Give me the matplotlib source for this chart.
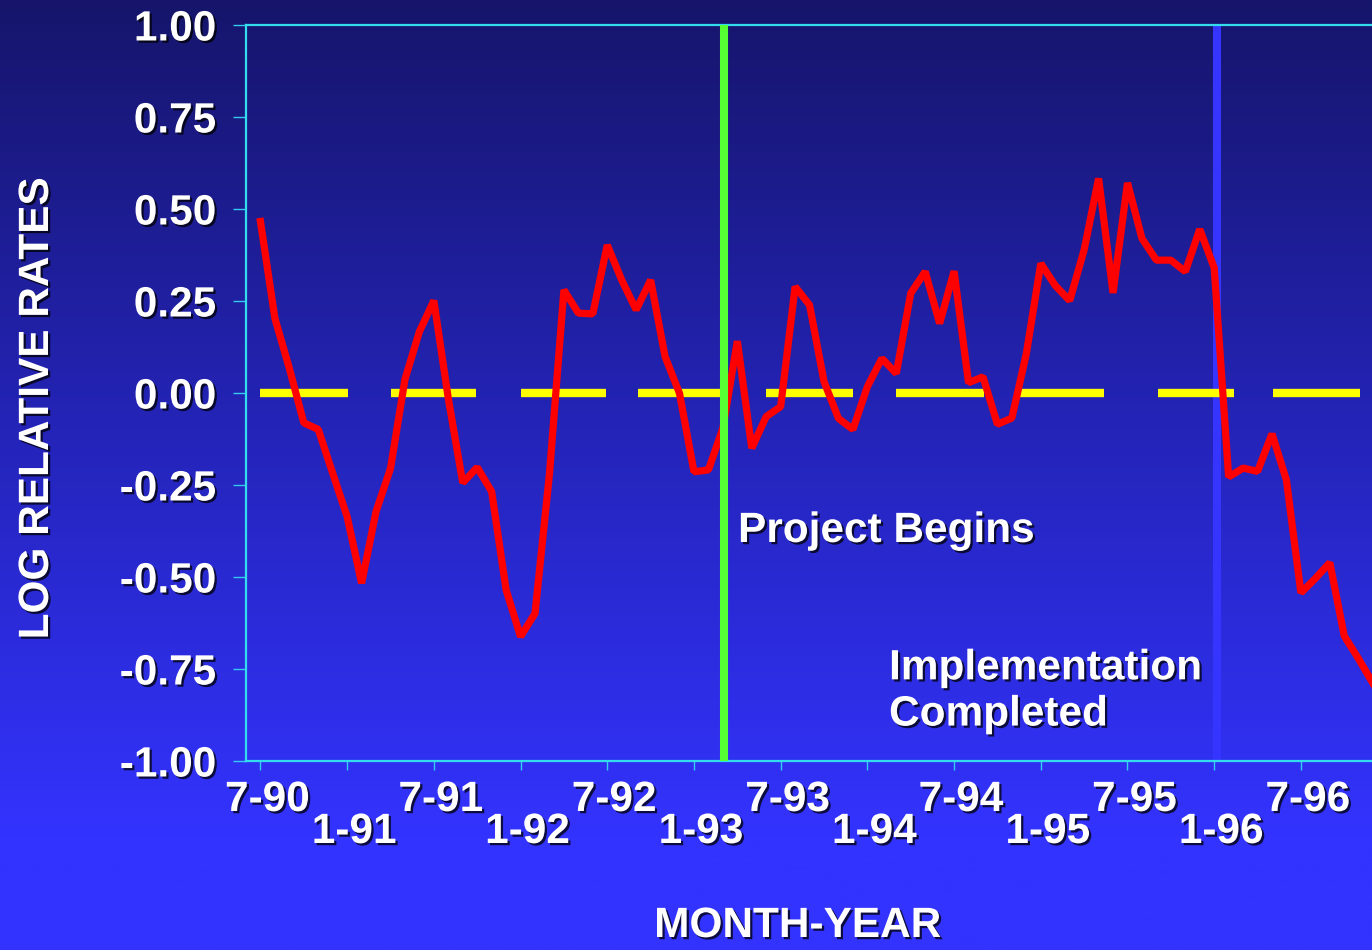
import numpy as np
import matplotlib
matplotlib.use("Agg")
import matplotlib.pyplot as plt
import matplotlib.patheffects as pe
import matplotlib.transforms as mtransforms
from matplotlib.colors import LinearSegmentedColormap

# monthly log relative rates, starting July 1990
rates = [
    0.466, 0.203, 0.067, -0.081, -0.099, -0.218, -0.336, -0.517, -0.322, -0.205,
    0.037, 0.167, 0.251, -0.015, -0.244, -0.202, -0.268, -0.535, -0.662, -0.599,
    -0.220, 0.280, 0.217, 0.215, 0.402, 0.307, 0.226, 0.307, 0.099, -0.001,
    -0.214, -0.209, -0.096, 0.141, -0.150, -0.064, -0.037, 0.289, 0.239, 0.031,
    -0.069, -0.099, 0.017, 0.094, 0.053, 0.271, 0.330, 0.189, 0.331, 0.028,
    0.044, -0.085, -0.068, 0.107, 0.352, 0.292, 0.251, 0.389, 0.583, 0.272,
    0.571, 0.420, 0.361, 0.361, 0.330, 0.445, 0.340, -0.228, -0.204, -0.213,
    -0.111, -0.237, -0.543, -0.504, -0.461, -0.660, -0.723, -0.790,
]
months = np.arange(len(rates))

# baseline pieces (start month, end month) drawn at zero
baseline_segments = [
    (0.0, 6.05), (9.0, 14.9), (18.0, 23.9), (26.1, 32.5), (35.0, 41.0),
    (44.0, 50.1), (52.3, 58.4), (62.1, 67.4), (70.1, 76.1),
]

tick_months = [0, 6, 12, 18, 24, 30, 36, 42, 48, 54, 60, 66, 72]
tick_labels = ["7-90", "1-91", "7-91", "1-92", "7-92", "1-93", "7-93",
               "1-94", "7-94", "1-95", "7-95", "1-96", "7-96"]
y_ticks = [1.0, 0.75, 0.5, 0.25, 0.0, -0.25, -0.5, -0.75, -1.0]

project_start = 32.1
implementation_done = 66.2

W, H = 1372, 950
fig = plt.figure(figsize=(W / 100, H / 100), dpi=100)
plt.rcParams["font.family"] = ["Liberation Sans", "DejaVu Sans"]

# slide background: dark navy at the top fading into bright blue
bg = fig.add_axes([0, 0, 1, 1], zorder=-10)
cmap = LinearSegmentedColormap.from_list(
    "slide", [(0.0, "#16156b"), (0.45, "#2424b8"), (0.88, "#3333ff"), (1.0, "#3333ff")])
grad = np.linspace(0, 1, 512).reshape(-1, 1)
bg.imshow(grad, aspect="auto", cmap=cmap, extent=[0, 1, 1, 0])
bg.set_xlim(0, 1)
bg.set_ylim(1, 0)
bg.axis("off")

ax = fig.add_axes([246 / W, 1 - 761 / H, 1 - 246 / W + 0.01, 736 / H])
ax.set_facecolor("none")

shadow = [pe.SimplePatchShadow(offset=(1.6, -1.6), shadow_rgbFace="black", alpha=0.75),
          pe.Normal()]
txt_kw = dict(color="white", fontsize=30.5, fontweight="bold", path_effects=shadow)

ax.plot(months, rates, color="#ff0000", lw=5.2, solid_joinstyle="bevel", zorder=4)

for start, end in baseline_segments:
    ax.plot([start, end], [0, 0], color="#ffff00", lw=6, solid_capstyle="butt", zorder=3)

ax.axvline(project_start, color="#55ff33", lw=5.8, zorder=5)
ax.axvline(implementation_done, color="#3535ff", lw=5.8, zorder=2)

ax.text(33.05, -0.375, "Project Begins", ha="left", va="center", zorder=6, **txt_kw)
ax.text(43.5, -0.811, "Implementation\nCompleted", ha="left", va="center",
        linespacing=1.2, zorder=6, **txt_kw)

ax.set_xlim(-1.0, 76.92 + 0.01 * W / 14.45)
ax.set_ylim(-1.0, 1.0)

for side in ["left", "bottom", "top"]:
    ax.spines[side].set_color("#33ddee")
    ax.spines[side].set_linewidth(1.6)
ax.spines["right"].set_visible(False)

ax.set_yticks(y_ticks)
ax.set_yticklabels([f"{v:.2f}" for v in y_ticks])
for lbl in ax.get_yticklabels():
    lbl.set_color("white")
    lbl.set_fontsize(30.5)
    lbl.set_fontweight("bold")
    lbl.set_path_effects(shadow)
ax.tick_params(axis="y", colors="#33ccee", length=9.5, width=1.0, pad=12)
ax.tick_params(axis="y", labelcolor="white")

ax.set_xticks(tick_months)
ax.set_xticklabels([])
ax.tick_params(axis="x", colors="#33ccee", length=6.5, width=1.0)

# staggered month labels under the axis
lab_trans = mtransforms.offset_copy(ax.get_xaxis_transform(), fig=fig, x=7, y=0, units="dots")
for i, (m, lab) in enumerate(zip(tick_months, tick_labels)):
    ypos = -39 / 736 if i % 2 == 0 else -71 / 736
    ax.text(m, ypos, lab, transform=lab_trans, ha="center", va="center",
            clip_on=False, **txt_kw)

fig.text(37 / W, 1 - 408 / H, "LOG RELATIVE RATES", rotation=90,
         ha="center", va="center", **txt_kw)
fig.text(798 / W, 1 - 926 / H, "MONTH-YEAR", ha="center", va="center", **txt_kw)

fig.savefig("out.png", dpi=100)
